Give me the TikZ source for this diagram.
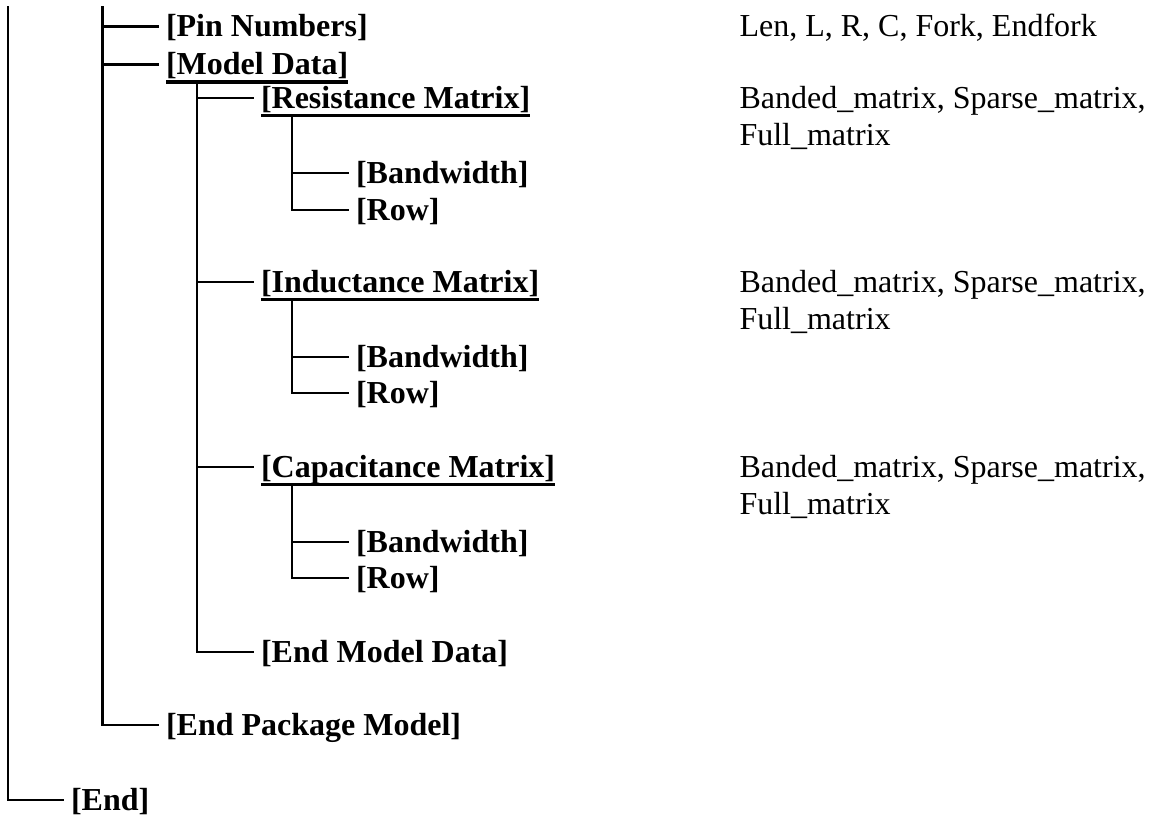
\documentclass[tikz,border=0pt]{standalone}
\usepackage{fontspec}
\setmainfont{Liberation Serif}
\begin{document}
\begin{tikzpicture}[x=0.75pt,y=-0.75pt,
  item/.style={anchor=west, inner sep=0pt, outer sep=0pt, text height=15.6pt, text depth=0pt,
    font=\bfseries\fontsize{24}{28}\selectfont},
  note/.style={anchor=base west, inner sep=0pt, outer sep=0pt,
    font=\fontsize{24}{28}\selectfont},
  tree/.style={line width=1.65pt, line cap=rect},
  uline/.style={line width=2.6pt}]
\useasboundingbox (0,0) rectangle (1152,816);

% level-2 items
\node[item] (pin) at (166,26.5) {[Pin Numbers]};
\node[item] (md)  at (166,64.5) {[Model Data]};
% level-3 items
\node[item] (res) at (261,98.3) {[Resistance Matrix]};
\node[item] (ind) at (261,282) {[Inductance Matrix]};
\node[item] (cap) at (261,467.3) {[Capacitance Matrix]};
\node[item] (emd) at (261,651.7) {[End Model Data]};
% level-4 items
\node[item] (rbw)  at (356,172.7) {[Bandwidth]};
\node[item] (rrow) at (356,210) {[Row]};
\node[item] (ibw)  at (356,356.7) {[Bandwidth]};
\node[item] (irow) at (356,393.3) {[Row]};
\node[item] (cbw)  at (356,541.7) {[Bandwidth]};
\node[item] (crow) at (356,578.3) {[Row]};
% closing items
\node[item] (epm) at (166,725) {[End Package Model]};
\node[item] (end) at (71,800) {[End]};

% notes
\node[note] (npin) at (739.5,37) {Len, L, R, C, Fork, Endfork};
\node[note] (nres1) at (739.5,108.8) {Banded\_matrix, Sparse\_matrix,};
\node[note] (nres2) at (739.5,145.8) {Full\_matrix};
\node[note] (nind1) at (739.5,292.5) {Banded\_matrix, Sparse\_matrix,};
\node[note] (nind2) at (739.5,329.5) {Full\_matrix};
\node[note] (ncap1) at (739.5,477.8) {Banded\_matrix, Sparse\_matrix,};
\node[note] (ncap2) at (739.5,514.8) {Full\_matrix};

% underlines
\foreach \n in {md,res,ind,cap}{
  \draw[uline] ([yshift=-5.25pt]\n.south west) -- ([yshift=-5.25pt]\n.south east);
  \path ([yshift=-5.25pt]\n.south west) ++(31,0) coordinate (\n-t);
}

% trunks
\coordinate (t1) at (8,7);
\coordinate (t2) at (102.5,7);
\draw[tree] (t1) |- ([xshift=-6pt]end.west);
\draw[tree] (t2) |- ([xshift=-6pt]epm.west);
\draw[tree] (t2 |- pin.west) -- ([xshift=-6pt]pin.west);
\draw[tree] (t2 |- md.west) -- ([xshift=-6pt]md.west);

\draw[tree] (md-t) |- ([xshift=-6pt]emd.west);
\foreach \n in {res,ind,cap}{
  \draw[tree] (md-t |- \n.west) -- ([xshift=-6pt]\n.west);
}

\draw[tree] (res-t) |- ([xshift=-6pt]rrow.west);
\draw[tree] (res-t |- rbw.west) -- ([xshift=-6pt]rbw.west);
\draw[tree] (ind-t) |- ([xshift=-6pt]irow.west);
\draw[tree] (ind-t |- ibw.west) -- ([xshift=-6pt]ibw.west);
\draw[tree] (cap-t) |- ([xshift=-6pt]crow.west);
\draw[tree] (cap-t |- cbw.west) -- ([xshift=-6pt]cbw.west);
\end{tikzpicture}
\end{document}
